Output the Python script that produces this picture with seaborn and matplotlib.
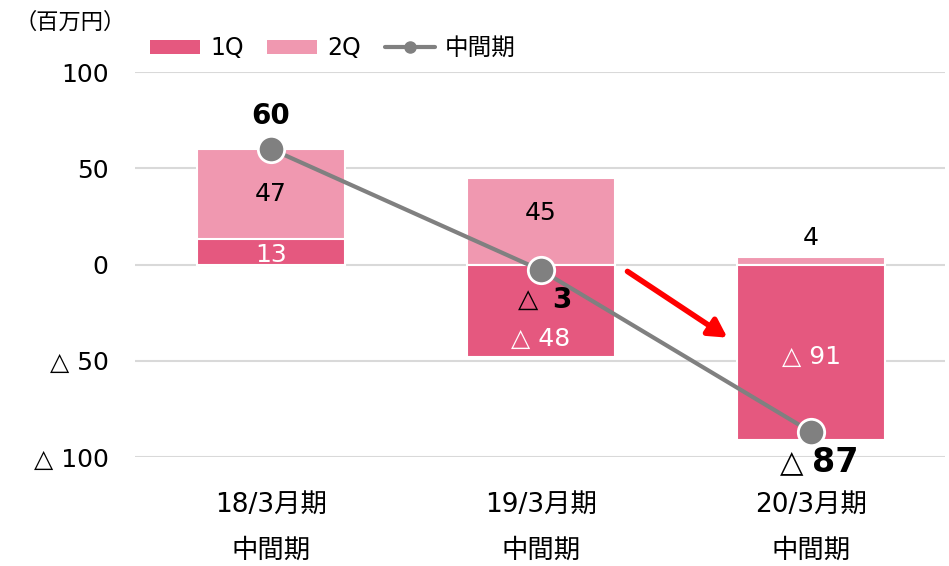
import matplotlib
matplotlib.use("Agg")
import matplotlib.pyplot as plt
import seaborn as sns
import numpy as np
import pandas as pd
from matplotlib.patches import Patch
from matplotlib.lines import Line2D

categories = ["18/3月期\n中間期", "19/3月期\n中間期", "20/3月期\n中間期"]
q1 = [13, -48, -91]
q2 = [47, 45, 4]
half = [60, -3, -87]
yticks = [100, 50, 0, -50, -100]
ytick_labels = ["100", "50", "0", "△ 50", "△ 100"]

C1 = "#E5587F"
C2 = "#F098B0"
GRAY = "#808080"

sns.set_theme(style="white")
plt.rcParams['font.family'] = ['DejaVu Sans', 'Noto Sans CJK JP']
plt.rcParams['text.color'] = 'black'
plt.rcParams['xtick.color'] = 'black'
plt.rcParams['ytick.color'] = 'black'
plt.rcParams['legend.labelcolor'] = 'black'

fig = plt.figure(figsize=(9.49, 5.66), dpi=100)
ax = fig.add_axes([135/949, 1-457/566, (945-135)/949, (457-72)/566])

q1a = np.array(q1, dtype=float)
q2a = np.array(q2, dtype=float)
top2 = np.where(q1a > 0, q1a + q2a, q2a)

df = pd.DataFrame({"cat": categories, "q1": q1a, "q2top": top2})

sns.barplot(data=df, x="cat", y="q2top", color=C2, width=0.548, ax=ax,
            saturation=1, edgecolor="white", linewidth=1.5, zorder=2)
sns.barplot(data=df, x="cat", y="q1", color=C1, width=0.548, ax=ax,
            saturation=1, edgecolor="white", linewidth=1.5, zorder=3)

xs = np.arange(len(categories))
sns.lineplot(x=xs, y=half, ax=ax, color=GRAY, lw=3, marker="o", markersize=19,
             markerfacecolor=GRAY, markeredgecolor="white", markeredgewidth=2,
             zorder=5)

ax.set_xlim(-0.504, 2.496)
ax.set_ylim(-100, 100)
ax.set_yticks(yticks)
ax.set_yticklabels(ytick_labels, fontsize=18)
ax.set_xticks(xs)
ax.set_xticklabels(categories, fontsize=19, linespacing=2.0)
ax.tick_params(axis="both", length=0)
ax.tick_params(axis="y", pad=19)
ax.tick_params(axis="x", pad=25)
ax.set_xlabel("")
ax.set_ylabel("")
for s in ax.spines.values():
    s.set_visible(False)
ax.grid(axis="y", color="#D9D9D9", lw=1.5, zorder=0)
ax.set_axisbelow(True)

fs = 18
# 2Q labels
q2_offsets = [0, 4, 0]
for i in range(3):
    lo = q1a[i] if q1a[i] > 0 else 0
    if q2a[i] > 10:
        ax.text(xs[i], lo + q2a[i] / 2 + q2_offsets[i], f"{q2[i]}", ha="center", va="center",
                fontsize=fs, zorder=6)
    else:
        ax.text(xs[i], top2[i] + 10, f"{q2[i]}", ha="center", va="center", fontsize=fs,
                zorder=6)

# 1Q labels
ax.text(xs[0], 5, "13", ha="center", va="center", fontsize=fs, color="white", zorder=6)
ax.text(xs[1], -38.5, "△ 48", ha="center", va="center", fontsize=fs, color="white", zorder=6)
ax.text(xs[2], -48, "△ 91", ha="center", va="center", fontsize=fs, color="white", zorder=6)

# half-year labels
ax.text(xs[0], 77, f"{half[0]}", ha="center", va="center", fontsize=20, fontweight="bold", zorder=6)
ax.text(xs[1] - 0.01, -18.5, "△", ha="right", va="center", fontsize=19, zorder=6)
ax.text(xs[1] + 0.04, -18.5, f"{abs(half[1])}", ha="left", va="center", fontsize=20,
        fontweight="bold", zorder=6)
ax.text(xs[2] - 0.03, -103, "△", ha="right", va="center", fontsize=22, zorder=6, clip_on=False)
ax.text(xs[2] + 0.005, -103, f"{abs(half[2])}", ha="left", va="center", fontsize=24,
        fontweight="bold", zorder=6, clip_on=False)

# red arrow
ax.annotate("", xy=(1.69, -38), xytext=(1.32, -3.6),
            arrowprops=dict(arrowstyle="-|>,head_length=0.9,head_width=0.5", color="red", lw=4,
                            shrinkA=0, shrinkB=0), zorder=7)

fig.text(14/949, 1-22/566, "（百万円）", fontsize=16, ha="left", va="center")

handles = [Patch(facecolor=C1, edgecolor="none", label="1Q"),
           Patch(facecolor=C2, edgecolor="none", label="2Q"),
           Line2D([0], [0], color=GRAY, lw=3, marker="o", markersize=8,
                  markerfacecolor=GRAY, markeredgecolor=GRAY, label="中間期")]
fig.legend(handles=handles, loc="center", bbox_to_anchor=(333/949, 1-48/566), ncol=3,
           frameon=False, fontsize=17, handlelength=2.1, handleheight=0.55,
           columnspacing=1.0, handletextpad=0.45)

fig.savefig("out.png", dpi=100)
